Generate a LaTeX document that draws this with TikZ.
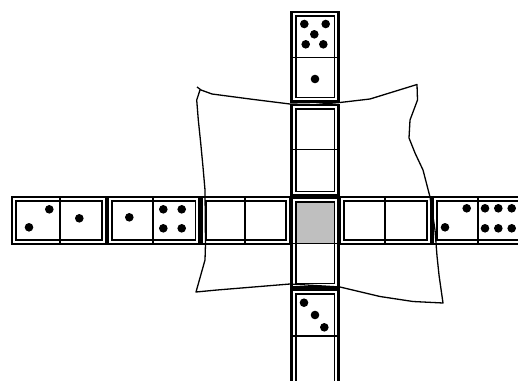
\documentclass[tikz,border=0pt]{standalone}
\begin{document}
\begin{tikzpicture}[x=1pt,y=-1pt,
  outerline/.style={line width=2.1pt},
  innerline/.style={line width=1.6pt},
  divline/.style={line width=1.3pt},
  cloth/.style={line width=1.3pt,line join=round},
  pip/.style={fill=black}]
\useasboundingbox (0,0) rectangle (518,380);
\clip (0,0) rectangle (518,380);
\newcommand{\hdom}[3]{%
  \draw[outerline] (#1,197) rectangle (#2,244);
  \draw[innerline] (#1+4.2,201.2) rectangle (#2-4.2,239.8);
  \draw[divline] (#3,197) -- (#3,244);}
\newcommand{\vdom}[3]{%
  \draw[outerline] (291.5,#1) rectangle (338.5,#2);
  \draw[innerline] (295.7,#1+4.2) rectangle (334.3,#2-4.2);
  \draw[divline] (291.5,#3) -- (338.5,#3);}
% hand-drawn outline
\draw[cloth] (197,87) -- (201,90) -- (212,94) -- (250,99) -- (290,104) -- (315,104.5)
  -- (340,102.5) -- (370,99) -- (417,84.5) -- (417.5,100) -- (410,120) -- (409,138)
  -- (415,153) -- (423,170) -- (430,197) -- (435,230) -- (437,256) -- (439,275)
  -- (443,303) -- (413,301.5) -- (380,296.5) -- (340,287) -- (290,284) -- (217,290)
  -- (196,292) -- (205,260) -- (205.5,244) -- (205,190) -- (203,167) -- (200.7,143)
  -- (198.3,120) -- (196.7,100) -- (200,90);
% grey cell
\fill[black!25] (295.7,201.2) rectangle (334.3,243);
% horizontal dominoes
\hdom{12}{106}{60}
\hdom{107.5}{199.5}{153}
\hdom{201.5}{290}{245}
\hdom{339.5}{431}{385}
\hdom{433}{530}{478}
% vertical dominoes
\vdom{12}{101.5}{57.5}
\vdom{105}{195.5}{149.5}
\vdom{197.5}{287.5}{243.5}
\vdom{290}{386}{336}
% pips
\foreach \p in {(304.3,24),(325.7,24),(314.3,34.3),(305.7,44.3),(323.3,44.3),(315,79),
  (29,227.3),(49.3,209.3),(79.3,218.3),
  (129.3,217.3),(163.3,209.3),(181.7,209.3),(163.3,228.3),(181.7,228.3),
  (445,227.3),(466.7,208.3),(485,208.3),(498.3,208.3),(511.7,208.3),(485,228.3),(498.3,228.3),(511.7,228.3),
  (304,302.7),(315,315),(324.3,327.3)}
  \fill[pip] \p circle (4.3pt);
\end{tikzpicture}
\end{document}
